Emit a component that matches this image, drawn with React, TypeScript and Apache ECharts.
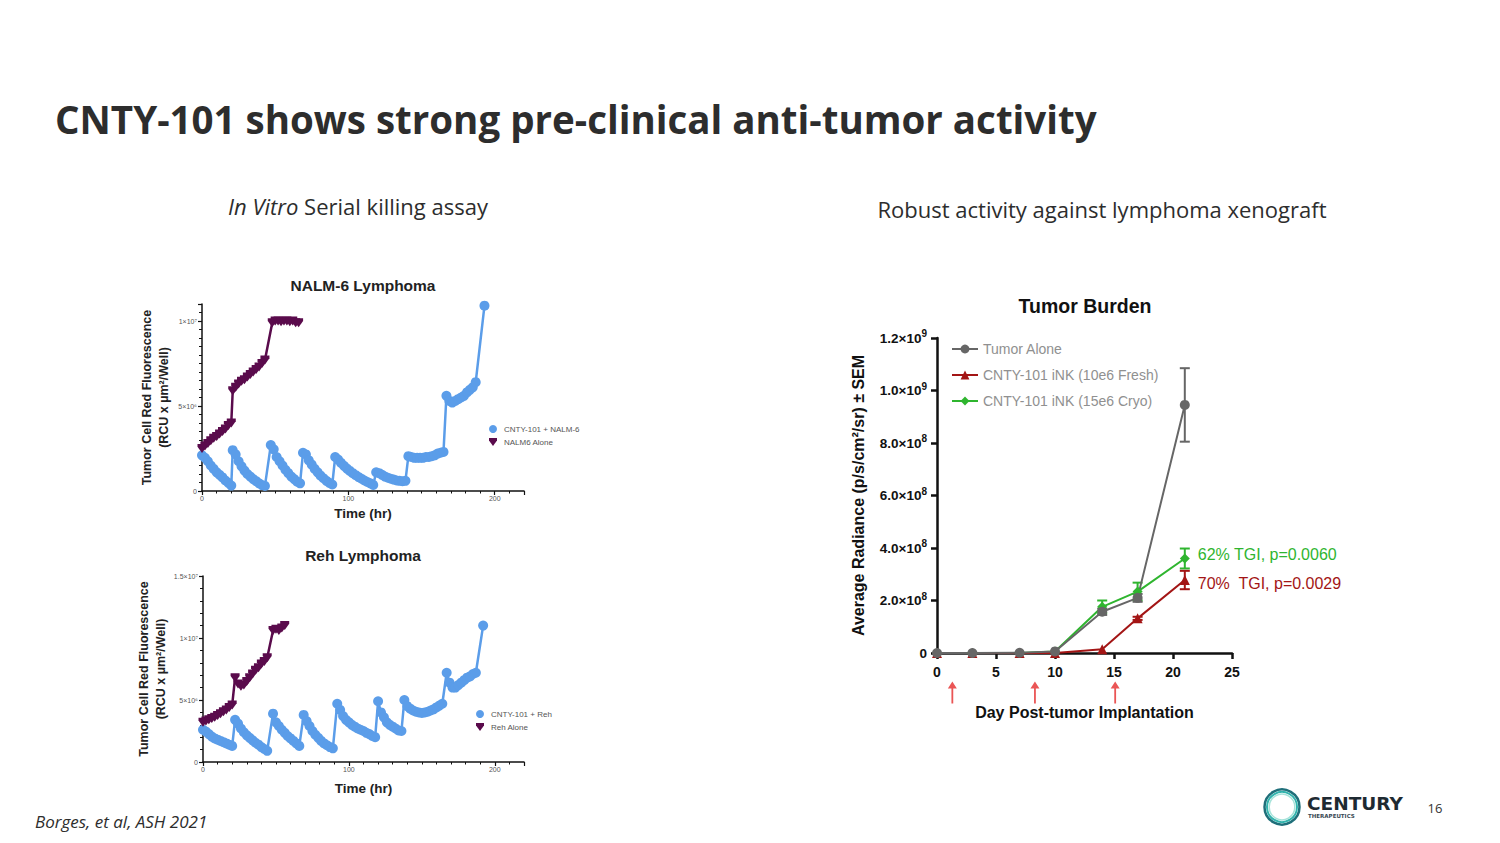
import React, { useEffect, useRef } from "react";
import * as echarts from "echarts";

// ---------- DATA ----------
// NALM-6 Lymphoma: [time (hr), fluorescence (x10^6 RCU x µm²/Well)]
const nalmCnty: [number, number][] = [
  [0, 2.1], [2, 1.95], [4, 1.75], [6, 1.5], [8, 1.3], [10, 1.1], [12, 0.95], [14, 0.8], [16, 0.62], [18, 0.48], [20, 0.32],
  [21, 2.4], [23, 2.15], [25, 1.75], [27, 1.45], [29, 1.2], [31, 1.0], [33, 0.85], [35, 0.7], [37, 0.58], [39, 0.45], [41, 0.35], [43, 0.3],
  [47, 2.7], [49, 2.45], [51, 2.0], [53, 1.75], [55, 1.5], [57, 1.25], [59, 1.05], [61, 0.85], [63, 0.7], [65, 0.55], [67, 0.45],
  [69, 2.25], [71, 2.15], [73, 1.8], [75, 1.55], [77, 1.3], [79, 1.1], [81, 0.9], [83, 0.75], [85, 0.6], [87, 0.48], [89, 0.38],
  [91, 2.0], [93, 1.85], [95, 1.65], [97, 1.48], [99, 1.32], [101, 1.18], [103, 1.05], [105, 0.93], [107, 0.82], [109, 0.72], [111, 0.62], [113, 0.53], [115, 0.45], [117, 0.36],
  [119, 1.1], [121, 1.05], [123, 0.95], [125, 0.85], [127, 0.78], [129, 0.72], [131, 0.67], [133, 0.62], [135, 0.6], [137, 0.58], [139, 0.6],
  [141, 2.05], [143, 2.0], [145, 1.95], [147, 1.95], [149, 1.95], [151, 1.95], [153, 2.0], [155, 2.0], [157, 2.05], [159, 2.1], [161, 2.2], [163, 2.25], [165, 2.3],
  [167, 5.6], [169, 5.3], [171, 5.2], [173, 5.3], [175, 5.4], [177, 5.5], [179, 5.6], [181, 5.8], [183, 5.95], [185, 6.1], [187, 6.4],
  [193, 10.9],
];
const nalmAlone: [number, number][] = [
  [0, 2.5], [2, 2.65], [4, 2.8], [6, 2.95], [8, 3.1], [10, 3.2], [12, 3.35], [14, 3.5], [16, 3.65], [18, 3.85], [20, 4.0],
  [21, 5.9], [23, 6.1], [25, 6.3], [27, 6.45], [29, 6.55], [31, 6.7], [33, 6.85], [35, 7.0], [37, 7.15], [39, 7.3], [41, 7.5], [43, 7.7],
  [48, 9.9], [50, 10.0], [52, 10.0], [54, 9.95], [56, 10.0], [58, 10.0], [60, 9.95], [62, 10.0], [64, 9.9], [66, 9.9],
];

// Reh Lymphoma
const rehCnty: [number, number][] = [
  [0, 2.6], [2, 2.45], [4, 2.25], [6, 2.05], [8, 1.9], [10, 1.8], [12, 1.7], [14, 1.6], [16, 1.5], [18, 1.4], [20, 1.3],
  [22, 3.4], [24, 3.1], [26, 2.7], [28, 2.4], [30, 2.15], [32, 1.95], [34, 1.75], [36, 1.55], [38, 1.4], [40, 1.2], [42, 1.05], [44, 0.9],
  [48, 3.9], [50, 3.2], [52, 2.9], [54, 2.6], [56, 2.35], [58, 2.1], [60, 1.9], [62, 1.7], [64, 1.5], [66, 1.3],
  [69, 3.8], [71, 3.3], [73, 2.9], [75, 2.5], [77, 2.2], [79, 1.95], [81, 1.7], [83, 1.5], [85, 1.35], [87, 1.2], [89, 1.1],
  [92, 4.7], [94, 4.2], [96, 3.7], [98, 3.4], [100, 3.2], [102, 3.0], [104, 2.85], [106, 2.7], [108, 2.6], [110, 2.5], [112, 2.35], [114, 2.25], [116, 2.1], [118, 2.0],
  [120, 4.9], [122, 4.0], [124, 3.6], [126, 3.2], [128, 3.0], [130, 2.85], [132, 2.7], [134, 2.55], [136, 2.5],
  [138, 5.0], [140, 4.5], [142, 4.3], [144, 4.15], [146, 4.05], [148, 4.0], [150, 3.95], [152, 4.0], [154, 4.05], [156, 4.15], [158, 4.25], [160, 4.4], [162, 4.55], [164, 4.7],
  [167, 7.2], [169, 6.4], [171, 6.0], [173, 6.0], [175, 6.2], [177, 6.4], [179, 6.6], [181, 6.8], [183, 6.9], [185, 7.1], [187, 7.2],
  [192, 11.0],
];
const rehAlone: [number, number][] = [
  [0, 3.2], [2, 3.3], [4, 3.4], [6, 3.5], [8, 3.6], [10, 3.75], [12, 3.9], [14, 4.05], [16, 4.2], [18, 4.4], [20, 4.6],
  [22, 6.8], [24, 6.3], [26, 6.1], [28, 6.2], [30, 6.5], [32, 6.8], [34, 7.1], [36, 7.4], [38, 7.6], [40, 7.9], [42, 8.1], [44, 8.4],
  [48, 10.6], [50, 10.7], [52, 10.6], [54, 10.8], [56, 11.0],
];

// Tumor Burden (xenograft)
const days = [0, 3, 7, 10, 14, 17, 21];
const tumorAlone = [0, 0, 0.01e8, 0.06e8, 1.57e8, 2.1e8, 9.45e8];
const tumorAloneErr = [0, 0, 0, 0, 0.12e8, 0.15e8, 1.4e8];
const freshVals = [0, 0, 0, 0, 0.14e8, 1.32e8, 2.78e8];
const freshErr = [0, 0, 0, 0, 0, 0.06e8, 0.35e8];
const cryoVals = [0, 0, 0, 0.06e8, 1.76e8, 2.34e8, 3.6e8];
const cryoErr = [0, 0, 0, 0, 0.24e8, 0.34e8, 0.38e8];
const dosingDays = [1.3, 8.3, 15.1];
const dosingArrowLevel = -1.5e8;

const nalmYTicks: Record<number, string> = { 0: "0", 5: "5×10⁶", 10: "1×10⁷" };
const rehYTicks: Record<number, string> = { 0: "0", 5: "5×10⁶", 10: "1×10⁷", 15: "1.5×10⁷" };

// ---------- STYLE ----------
const ARIAL = "'Liberation Sans', Arial, sans-serif";
const SLIDE = "'Open Sans', 'Noto Sans', sans-serif";
const BLUE = "#5b9de9";
const PURPLE = "#5a0b4c";
const GRAY = "#666666";
const RED = "#a31515";
const GREEN = "#2fb52f";
const DOWN_TRI = "path://M0,0 L10,0 L10,3 L5,10 L0,3 Z";
const ARROW = "path://M4,0 L8,7 L4.8,7 L4.8,22 L3.2,22 L3.2,7 L0,7 Z";

function sci(v: number): string {
  if (v === 0) return "0";
  const e = Math.floor(Math.log10(v) + 1e-9);
  const m = v / Math.pow(10, e);
  return m.toFixed(1) + "×10{s|" + e + "}";
}

function smallXAxis(gridIndex: number, nameGap: number) {
  return {
    type: "value", gridIndex, min: 0, max: 220, interval: 100,
    name: "Time (hr)", nameLocation: "middle", nameGap,
    nameTextStyle: { fontFamily: ARIAL, fontWeight: "bold", fontSize: 13.5, color: "#222" },
    axisLine: { show: true, lineStyle: { color: "#111", width: 1.5 } },
    axisTick: { show: true, length: 4, lineStyle: { color: "#111", width: 1.2 } },
    minorTick: { show: true, splitNumber: 10, length: 2.5, lineStyle: { color: "#111", width: 1 } },
    axisLabel: { fontFamily: ARIAL, fontSize: 7, color: "#555", margin: 4, showMaxLabel: false, formatter: (v: number) => (v % 100 === 0 ? String(v) : "") },
    splitLine: { show: false },
  };
}
function smallYAxis(gridIndex: number, max: number, minorSplit: number, labels: Record<number, string>) {
  return {
    type: "value", gridIndex, min: 0, max, interval: 5,
    name: "Tumor Cell Red Fluorescence\n(RCU x µm²/Well)", nameLocation: "middle", nameGap: 30,
    nameTextStyle: { fontFamily: ARIAL, fontWeight: "bold", fontSize: 12.5, color: "#222", lineHeight: 17 },
    axisLine: { show: true, lineStyle: { color: "#111", width: 1.5 } },
    axisTick: { show: true, length: 4, lineStyle: { color: "#111", width: 1.2 } },
    minorTick: { show: true, splitNumber: minorSplit, length: 3, lineStyle: { color: "#111", width: 1 } },
    axisLabel: { fontFamily: ARIAL, fontSize: 7, color: "#555", margin: 5, formatter: (v: number) => labels[v] ?? "" },
    splitLine: { show: false },
  };
}

function errorBars(name: string, xs: number[], ys: number[], es: number[], color: string) {
  const data = xs.map((x, i) => [x, ys[i], es[i]]).filter((d) => d[2] > 0);
  return {
    type: "custom", name, xAxisIndex: 2, yAxisIndex: 2, data, encode: { x: 0, y: 1 }, z: 3,
    renderItem: (_p: any, api: any) => {
      const x = api.value(0), y = api.value(1), e = api.value(2);
      const t = api.coord([x, y + e]);
      const b = api.coord([x, y - e]);
      const hw = 5;
      const st = { stroke: color, lineWidth: 2 };
      return {
        type: "group",
        children: [
          { type: "line", shape: { x1: t[0], y1: t[1], x2: b[0], y2: b[1] }, style: st },
          { type: "line", shape: { x1: t[0] - hw, y1: t[1], x2: t[0] + hw, y2: t[1] }, style: st },
          { type: "line", shape: { x1: b[0] - hw, y1: b[1], x2: b[0] + hw, y2: b[1] }, style: st },
        ],
      };
    },
  };
}

function withEndLabel(xs: number[], ys: number[], text: string, color: string, dy: number) {
  return xs.map((x, i) =>
    i === xs.length - 1
      ? { value: [x, ys[i]], label: { show: true, position: "right", distance: 8, offset: [0, dy], formatter: text, color, fontFamily: ARIAL, fontSize: 16 } }
      : [x, ys[i]]
  );
}

export default function App() {
  const ref = useRef<HTMLDivElement>(null);
  useEffect(() => {
    document.body.style.margin = "0";
    const chart = echarts.init(ref.current!, null, { renderer: "svg" });
    const option: any = {
      animation: false,
      backgroundColor: "#ffffff",
      grid: [
        { left: 202, top: 304, width: 322, height: 187 },
        { left: 203, top: 576, width: 321, height: 186 },
        { left: 937, top: 338, width: 295, height: 315 },
      ],
      xAxis: [
        smallXAxis(0, 15),
        smallXAxis(1, 19),
        {
          type: "value", gridIndex: 2, min: 0, max: 25, interval: 5,
          name: "Day Post-tumor Implantation", nameLocation: "middle", nameGap: 51,
          nameTextStyle: { fontFamily: ARIAL, fontWeight: "bold", fontSize: 16, color: "#111" },
          axisLine: { show: true, lineStyle: { color: "#111", width: 2.5 } },
          axisTick: { show: true, length: 6, lineStyle: { color: "#111", width: 2.5 } },
          axisLabel: { fontFamily: ARIAL, fontWeight: "bold", fontSize: 14, color: "#111", margin: 12 },
          splitLine: { show: false },
        },
      ],
      yAxis: [
        smallYAxis(0, 11, 10, nalmYTicks),
        smallYAxis(1, 15, 5, rehYTicks),
        {
          type: "value", gridIndex: 2, min: 0, max: 1.2e9, interval: 2e8,
          name: "Average Radiance (p/s/cm²/sr) ± SEM", nameLocation: "middle", nameGap: 71,
          nameTextStyle: { fontFamily: ARIAL, fontWeight: "bold", fontSize: 16, color: "#111" },
          axisLine: { show: true, lineStyle: { color: "#111", width: 2.5 } },
          axisTick: { show: true, length: 6, lineStyle: { color: "#111", width: 2.5 } },
          axisLabel: {
            fontFamily: ARIAL, fontWeight: "bold", fontSize: 13.5, color: "#111", margin: 10, formatter: sci,
            rich: { s: { fontFamily: ARIAL, fontWeight: "bold", fontSize: 10, color: "#111", padding: [0, 0, 9, 0] } },
          },
          splitLine: { show: false },
        },
      ],
      legend: [
        {
          left: 484, top: 420, orient: "vertical", itemWidth: 12, itemHeight: 8, itemGap: 5,
          textStyle: { fontFamily: ARIAL, fontSize: 8, color: "#555" },
          data: [{ name: "CNTY-101 + NALM-6", icon: "circle" }, { name: "NALM6 Alone", icon: DOWN_TRI }],
        },
        {
          left: 471, top: 705, orient: "vertical", itemWidth: 12, itemHeight: 8, itemGap: 5,
          textStyle: { fontFamily: ARIAL, fontSize: 8, color: "#555" },
          data: [{ name: "CNTY-101 + Reh", icon: "circle" }, { name: "Reh Alone", icon: DOWN_TRI }],
        },
        {
          left: 946, top: 337, orient: "vertical", itemWidth: 26, itemHeight: 11, itemGap: 12,
          textStyle: { fontFamily: ARIAL, fontSize: 14, color: "#909090" },
          data: ["Tumor Alone", "CNTY-101 iNK (10e6 Fresh)", "CNTY-101 iNK (15e6 Cryo)"],
        },
      ],
      series: [
        { type: "line", name: "CNTY-101 + NALM-6", xAxisIndex: 0, yAxisIndex: 0, data: nalmCnty, color: BLUE, symbol: "circle", symbolSize: 10, lineStyle: { width: 2.5 } },
        { type: "line", name: "NALM6 Alone", xAxisIndex: 0, yAxisIndex: 0, data: nalmAlone, color: PURPLE, symbol: DOWN_TRI, symbolSize: 9, lineStyle: { width: 2.5 } },
        { type: "line", name: "CNTY-101 + Reh", xAxisIndex: 1, yAxisIndex: 1, data: rehCnty, color: BLUE, symbol: "circle", symbolSize: 10, lineStyle: { width: 2.5 } },
        { type: "line", name: "Reh Alone", xAxisIndex: 1, yAxisIndex: 1, data: rehAlone, color: PURPLE, symbol: DOWN_TRI, symbolSize: 9, lineStyle: { width: 2.5 } },
        {
          type: "line", name: "CNTY-101 iNK (15e6 Cryo)", xAxisIndex: 2, yAxisIndex: 2, color: GREEN, symbol: "diamond", symbolSize: 10, lineStyle: { width: 2 },
          data: withEndLabel(days, cryoVals, "62% TGI, p=0.0060", GREEN, -4),
        },
        {
          type: "line", name: "CNTY-101 iNK (10e6 Fresh)", xAxisIndex: 2, yAxisIndex: 2, color: RED, symbol: "triangle", symbolSize: 10, lineStyle: { width: 2 },
          data: withEndLabel(days, freshVals, "70%  TGI, p=0.0029", RED, 3),
        },
        {
          type: "line", name: "Tumor Alone", xAxisIndex: 2, yAxisIndex: 2, color: GRAY, symbol: "circle", symbolSize: 10, lineStyle: { width: 2 },
          data: days.map((d, i) => [d, tumorAlone[i]]),
        },
        errorBars("err-cryo", days, cryoVals, cryoErr, GREEN),
        errorBars("err-fresh", days, freshVals, freshErr, RED),
        errorBars("err-alone", days, tumorAlone, tumorAloneErr, GRAY),
        {
          type: "scatter", name: "dosing", xAxisIndex: 2, yAxisIndex: 2, clip: false, symbol: ARROW, symbolSize: [9, 22],
          itemStyle: { color: "#e52a2a" }, data: dosingDays.map((d) => [d, dosingArrowLevel]),
        },
      ],
      graphic: [
        { type: "text", x: 55, y: 119, style: { text: "CNTY-101 shows strong pre-clinical anti-tumor activity", fontFamily: SLIDE, fontWeight: "bold", fontSize: 38.5, fill: "#2d2d2d", align: "left", verticalAlign: "middle" } },
        {
          type: "text", x: 358, y: 206,
          style: { text: "{i|In Vitro} Serial killing assay", fontFamily: SLIDE, fontSize: 22, fill: "#2d2d2d", align: "center", verticalAlign: "middle", rich: { i: { fontFamily: SLIDE, fontStyle: "italic", fontSize: 22, fill: "#2d2d2d" } } },
        },
        { type: "text", x: 1102, y: 209, style: { text: "Robust activity against lymphoma xenograft", fontFamily: SLIDE, fontSize: 22, fill: "#2d2d2d", align: "center", verticalAlign: "middle" } },
        { type: "text", x: 363, y: 285, style: { text: "NALM-6 Lymphoma", fontFamily: ARIAL, fontWeight: "bold", fontSize: 15.5, fill: "#222", align: "center", verticalAlign: "middle" } },
        { type: "text", x: 363, y: 555, style: { text: "Reh Lymphoma", fontFamily: ARIAL, fontWeight: "bold", fontSize: 15.5, fill: "#222", align: "center", verticalAlign: "middle" } },
        { type: "text", x: 1085, y: 306, style: { text: "Tumor Burden", fontFamily: ARIAL, fontWeight: "bold", fontSize: 19.5, fill: "#111", align: "center", verticalAlign: "middle" } },
        { type: "text", x: 35, y: 821, style: { text: "Borges, et al, ASH 2021", fontFamily: SLIDE, fontStyle: "italic", fontSize: 17, fill: "#2d2d2d", align: "left", verticalAlign: "middle" } },
        { type: "text", x: 1435, y: 808, style: { text: "16", fontFamily: SLIDE, fontSize: 13, fill: "#333", align: "center", verticalAlign: "middle" } },
        // logo
        { type: "circle", shape: { cx: 1282, cy: 807, r: 17.5 }, style: { fill: "none", stroke: "#1f6f7a", lineWidth: 2.5 } },
        { type: "circle", shape: { cx: 1282, cy: 807, r: 15 }, style: { fill: "none", stroke: "#32b3ad", lineWidth: 2 } },
        { type: "circle", shape: { cx: 1282, cy: 807, r: 12.8 }, style: { fill: "none", stroke: "#a6e3da", lineWidth: 1.5 } },
        { type: "text", x: 1307, y: 803, style: { text: "CENTURY", fontFamily: "'DejaVu Sans', sans-serif", fontWeight: "bold", fontSize: 18.5, fill: "#1e2a32", align: "left", verticalAlign: "middle" } },
        { type: "text", x: 1308, y: 816, style: { text: "THERAPEUTICS", fontFamily: "'DejaVu Sans', sans-serif", fontWeight: "bold", fontSize: 5.5, fill: "#3a4a55", align: "left", verticalAlign: "middle" } },
      ],
    };
    chart.setOption(option);
    return () => chart.dispose();
  }, []);
  return <div ref={ref} style={{ position: "absolute", left: 0, top: 0, width: 1500, height: 843 }} />;
}
